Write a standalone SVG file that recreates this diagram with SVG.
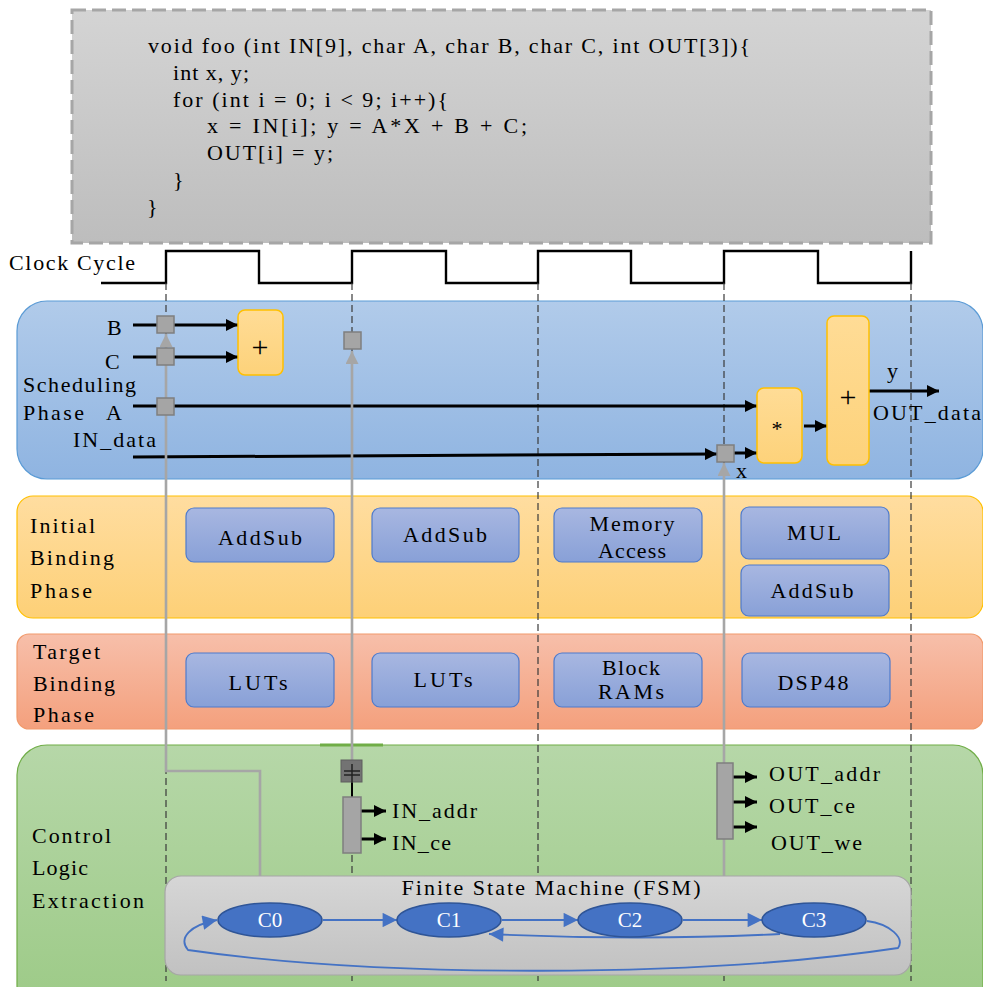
<svg xmlns="http://www.w3.org/2000/svg" width="983" height="987" viewBox="0 0 983 987">
<defs>
<linearGradient id="gCode" x1="0" y1="0" x2="0" y2="1"><stop offset="0" stop-color="#d4d4d4"/><stop offset="1" stop-color="#bdbdbd"/></linearGradient>
<linearGradient id="gSch" x1="0" y1="0" x2="0" y2="1"><stop offset="0" stop-color="#b1cbea"/><stop offset="1" stop-color="#8fb4e1"/></linearGradient>
<linearGradient id="gIni" x1="0" y1="0" x2="0" y2="1"><stop offset="0" stop-color="#ffdda0"/><stop offset="1" stop-color="#fdd077"/></linearGradient>
<linearGradient id="gTar" x1="0" y1="0" x2="0" y2="1"><stop offset="0" stop-color="#f7bfaa"/><stop offset="1" stop-color="#f4a07d"/></linearGradient>
<linearGradient id="gCtl" x1="0" y1="0" x2="0" y2="1"><stop offset="0" stop-color="#b6d7a8"/><stop offset="1" stop-color="#9cca86"/></linearGradient>
<linearGradient id="gBlu" x1="0" y1="0" x2="0" y2="1"><stop offset="0" stop-color="#a8b7e1"/><stop offset="1" stop-color="#88a0d7"/></linearGradient>
<linearGradient id="gYel" x1="0" y1="0" x2="0" y2="1"><stop offset="0" stop-color="#ffdc96"/><stop offset="1" stop-color="#fdd27a"/></linearGradient>
<linearGradient id="gFsm" x1="0" y1="0" x2="0" y2="1"><stop offset="0" stop-color="#d6d6d6"/><stop offset="1" stop-color="#c1c1c1"/></linearGradient>
<marker id="aBlk" viewBox="0 0 10 10" refX="10" refY="5" markerWidth="4.2" markerHeight="4" orient="auto" markerUnits="strokeWidth"><path d="M0,0 L10,5 L0,10 z" fill="#000"/></marker>
<marker id="aGry" viewBox="0 0 10 10" refX="10" refY="5" markerWidth="5.5" markerHeight="5" orient="auto" markerUnits="strokeWidth"><path d="M0,0 L10,5 L0,10 z" fill="#a6a6a6"/></marker>
<marker id="aBlu" viewBox="0 0 10 10" refX="10" refY="5" markerWidth="9" markerHeight="8" orient="auto" markerUnits="strokeWidth"><path d="M0,0 L10,5 L0,10 z" fill="#4472c4"/></marker>
</defs>
<style>
text{font-family:"Liberation Serif","Times New Roman",serif;font-size:22px;fill:#000}
.c{text-anchor:middle}
.w{fill:#fff;font-size:21px}
.op{font-size:30px}
.blue{fill:url(#gBlu);stroke:#4f7bcc;stroke-width:1.2}
.yel{fill:url(#gYel);stroke:#ffc000;stroke-width:1.5}
.sq{fill:#a5a5a5;stroke:#7f7f7f;stroke-width:1.5}
.dash{stroke:#3a3a3a;stroke-width:1.2;stroke-dasharray:7 4;fill:none}
.blk{stroke:#000;stroke-width:3;fill:none}
.gry{stroke:#a6a6a6;stroke-width:2.6;fill:none}
.bl{stroke:#4472c4;stroke-width:1.8;fill:none}
.st{fill:#4472c4;stroke:#2f5597;stroke-width:1.5}
</style>

<g id="code">
<rect x="72" y="10" width="859" height="233" fill="url(#gCode)" stroke="#a6a6a6" stroke-width="3" stroke-dasharray="14 6"/>
<text x="148" y="53" textLength="602" lengthAdjust="spacing">void foo (int IN[9], char A, char B, char C, int OUT[3]){</text>
<text x="173" y="80" textLength="76" lengthAdjust="spacing">int x, y;</text>
<text x="173" y="107" textLength="275" lengthAdjust="spacing">for (int i = 0; i &lt; 9; i++){</text>
<text x="207" y="133" textLength="320" lengthAdjust="spacing">x  =  IN[i]; y  = A*X + B + C;</text>
<text x="207" y="160" textLength="126" lengthAdjust="spacing">OUT[i]  =  y;</text>
<text x="173" y="187">}</text>
<text x="147" y="214">}</text>
</g>

<g id="clock">
<text x="9" y="270" textLength="126" lengthAdjust="spacing">Clock Cycle</text>
<path d="M101,283 H166 V251 H259 V283 H352 V251 H446 V283 H538 V251 H631 V283 H724 V251 H818 V283 H911 V251" fill="none" stroke="#000" stroke-width="2.4"/>
</g>

<g id="panels">
<rect id="scheduling" x="17" y="301" width="966" height="178" rx="30" fill="url(#gSch)" stroke="#5b9bd5" stroke-width="1.2"/>
<rect id="initial" x="17" y="496" width="966" height="122" rx="16" fill="url(#gIni)" stroke="#ffc000" stroke-width="1.2"/>
<rect id="target" x="17" y="634" width="966" height="95" rx="12" fill="url(#gTar)" stroke="#f19a6c" stroke-width="1.2"/>
<rect id="control" x="17" y="745" width="966" height="270" rx="30" fill="url(#gCtl)" stroke="#70ad47" stroke-width="1.2"/>
<line x1="320" y1="745" x2="383" y2="745" stroke="#70ad47" stroke-width="3"/>
</g>

<g id="panel-labels">
<text x="23" y="392" textLength="113" lengthAdjust="spacing">Scheduling</text>
<text x="23" y="420" textLength="61" lengthAdjust="spacing">Phase</text>
<text x="30" y="533" textLength="65" lengthAdjust="spacing">Initial</text>
<text x="30" y="565" textLength="84" lengthAdjust="spacing">Binding</text>
<text x="30" y="598" textLength="62" lengthAdjust="spacing">Phase</text>
<text x="33" y="659" textLength="67" lengthAdjust="spacing">Target</text>
<text x="33" y="691" textLength="82" lengthAdjust="spacing">Binding</text>
<text x="33" y="722" textLength="61" lengthAdjust="spacing">Phase</text>
<text x="32" y="843" textLength="79" lengthAdjust="spacing">Control</text>
<text x="32" y="875" textLength="56" lengthAdjust="spacing">Logic</text>
<text x="32" y="908" textLength="112" lengthAdjust="spacing">Extraction</text>
</g>

<g id="cycle-lines">
<line class="dash" x1="166" y1="283" x2="166" y2="981"/>
<line class="dash" x1="352" y1="283" x2="352" y2="981"/>
<line class="dash" x1="538" y1="283" x2="538" y2="981"/>
<line class="dash" x1="724" y1="283" x2="724" y2="981"/>
<line class="dash" x1="911" y1="283" x2="911" y2="981"/>
</g>

<g id="fsm">
<rect x="165" y="876" width="746" height="99" rx="16" fill="url(#gFsm)" stroke="#a6a6a6" stroke-width="1.2"/>
<text class="c" x="551" y="895" textLength="299" lengthAdjust="spacing">Finite State Machine (FSM)</text>
</g>

<g id="connectors">
<line class="blk" x1="133" y1="325" x2="238" y2="325" marker-end="url(#aBlk)"/>
<line class="blk" x1="133" y1="357" x2="238" y2="357" marker-end="url(#aBlk)"/>
<line class="blk" x1="133" y1="406" x2="757" y2="406" marker-end="url(#aBlk)"/>
<line class="blk" x1="133" y1="457" x2="717" y2="454" marker-end="url(#aBlk)"/>
<line class="blk" x1="734" y1="453" x2="757" y2="453" marker-end="url(#aBlk)"/>
<line class="blk" x1="804" y1="426" x2="827" y2="426" marker-end="url(#aBlk)"/>
<line class="blk" x1="869" y1="391" x2="939" y2="391" marker-end="url(#aBlk)"/>
<path class="gry" d="M260,876 V771 H166 V334" marker-end="url(#aGry)"/>
<path class="gry" d="M352,760 V351" marker-end="url(#aGry)"/>
<path class="gry" d="M724,876 V463" marker-end="url(#aGry)"/>
<line x1="352" y1="770" x2="352" y2="797" stroke="#000" stroke-width="2"/>
<line class="blk" x1="361" y1="811" x2="386" y2="811" marker-end="url(#aBlk)"/>
<line class="blk" x1="361" y1="839" x2="386" y2="839" marker-end="url(#aBlk)"/>
<line class="blk" x1="733" y1="777" x2="757" y2="777" marker-end="url(#aBlk)"/>
<line class="blk" x1="733" y1="802" x2="757" y2="802" marker-end="url(#aBlk)"/>
<line class="blk" x1="733" y1="827" x2="757" y2="827" marker-end="url(#aBlk)"/>
<line class="bl" x1="323" y1="920" x2="397" y2="920" marker-end="url(#aBlu)"/>
<line class="bl" x1="502" y1="920" x2="578" y2="920" marker-end="url(#aBlu)"/>
<line class="bl" x1="683" y1="920" x2="762" y2="920" marker-end="url(#aBlu)"/>
<path class="bl" d="M780,934 Q640,941 489,934" marker-end="url(#aBlu)"/>
<path class="bl" d="M867,921 C890,924 905,938 898,948 C700,978 380,978 188,950 C178,938 190,925 217,920" marker-end="url(#aBlu)"/>
</g>

<g id="sched-nodes">
<text x="107" y="335">B</text>
<text x="105" y="369">C</text>
<text x="106" y="420">A</text>
<text x="73" y="447" textLength="83" lengthAdjust="spacing">IN_data</text>
<rect class="sq" x="157" y="316" width="17" height="17"/>
<rect class="sq" x="157" y="348" width="17" height="17"/>
<rect class="sq" x="157" y="398" width="17" height="17"/>
<rect class="sq" x="344" y="332" width="17" height="17"/>
<rect class="sq" x="717" y="445" width="17" height="17"/>
<g id="add1"><rect class="yel" x="238" y="310" width="45" height="65" rx="7"/><text class="c op" x="260" y="357">+</text></g>
<g id="mul"><rect class="yel" x="757" y="388" width="45" height="75" rx="7"/><text class="c" x="777" y="436">*</text></g>
<g id="add2"><rect class="yel" x="827" y="316" width="42" height="149" rx="7"/><text class="c op" x="848" y="407">+</text></g>
<text x="887" y="378">y</text>
<text x="873" y="420" textLength="108" lengthAdjust="spacing">OUT_data</text>
<text x="736" y="478">x</text>
</g>

<g id="binding">
<g id="ib1"><rect class="blue" x="186" y="508" width="148" height="54" rx="8"/><text class="c" x="260" y="545" textLength="84" lengthAdjust="spacing">AddSub</text></g>
<g id="ib2"><rect class="blue" x="372" y="508" width="147" height="54" rx="8"/><text class="c" x="445" y="542" textLength="84" lengthAdjust="spacing">AddSub</text></g>
<g id="ib3"><rect class="blue" x="554" y="508" width="148" height="54" rx="8"/><text class="c" x="632" y="531" textLength="85" lengthAdjust="spacing">Memory</text><text class="c" x="632" y="558" textLength="68" lengthAdjust="spacing">Access</text></g>
<g id="ib4"><rect class="blue" x="741" y="507" width="148" height="52" rx="8"/><text class="c" x="814" y="540" textLength="54" lengthAdjust="spacing">MUL</text></g>
<g id="ib5"><rect class="blue" x="741" y="565" width="148" height="51" rx="8"/><text class="c" x="812" y="598" textLength="83" lengthAdjust="spacing">AddSub</text></g>
<g id="tb1"><rect class="blue" x="186" y="653" width="148" height="54" rx="8"/><text class="c" x="258" y="690" textLength="59" lengthAdjust="spacing">LUTs</text></g>
<g id="tb2"><rect class="blue" x="372" y="653" width="147" height="54" rx="8"/><text class="c" x="443" y="687" textLength="59" lengthAdjust="spacing">LUTs</text></g>
<g id="tb3"><rect class="blue" x="554" y="653" width="148" height="54" rx="8"/><text class="c" x="631" y="675" textLength="58" lengthAdjust="spacing">Block</text><text class="c" x="631" y="699" textLength="66" lengthAdjust="spacing">RAMs</text></g>
<g id="tb4"><rect class="blue" x="742" y="653" width="148" height="54" rx="8"/><text class="c" x="813" y="690" textLength="71" lengthAdjust="spacing">DSP48</text></g>
</g>

<g id="control-nodes">
<g id="in-reg">
<rect x="341" y="760" width="21" height="22" fill="#737373" stroke="#5f5f5f" stroke-width="1"/>
<line x1="344" y1="771" x2="360" y2="771" stroke="#222" stroke-width="1.5"/>
<line x1="344" y1="775" x2="360" y2="775" stroke="#222" stroke-width="1.5"/>
<line x1="352" y1="764" x2="352" y2="782" stroke="#222" stroke-width="1.5"/>
<rect class="sq" x="343" y="797" width="18" height="56"/>
</g>
<text x="392" y="818" textLength="85" lengthAdjust="spacing">IN_addr</text>
<text x="392" y="850" textLength="59" lengthAdjust="spacing">IN_ce</text>
<rect class="sq" x="717" y="763" width="16" height="76"/>
<text x="769" y="781" textLength="111" lengthAdjust="spacing">OUT_addr</text>
<text x="769" y="813" textLength="86" lengthAdjust="spacing">OUT_ce</text>
<text x="771" y="850" textLength="91" lengthAdjust="spacing">OUT_we</text>
<g id="C0"><ellipse class="st" cx="270" cy="920" rx="52" ry="17"/><text class="c w" x="270" y="927">C0</text></g>
<g id="C1"><ellipse class="st" cx="449" cy="920" rx="52" ry="17"/><text class="c w" x="449" y="927">C1</text></g>
<g id="C2"><ellipse class="st" cx="630" cy="920" rx="52" ry="17"/><text class="c w" x="630" y="927">C2</text></g>
<g id="C3"><ellipse class="st" cx="814" cy="920" rx="52" ry="17"/><text class="c w" x="814" y="927">C3</text></g>
</g>
</svg>
